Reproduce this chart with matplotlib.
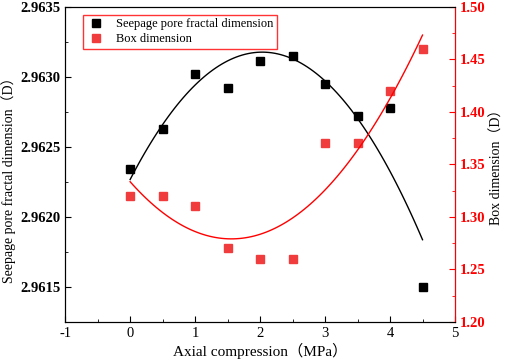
import matplotlib
matplotlib.use('Agg')
import numpy as np
import matplotlib.pyplot as plt
from matplotlib.ticker import MultipleLocator, FormatStrFormatter

plt.rcParams['font.family'] = ['Liberation Serif', 'Noto Sans CJK SC']
plt.rcParams['axes.unicode_minus'] = False

pressure = [0, 0.5, 1, 1.5, 2, 2.5, 3, 3.5, 4, 4.5]
seepage_d = [2.96234, 2.96263, 2.96302, 2.96292, 2.96311, 2.96315, 2.96295, 2.96272, 2.96278, 2.96150]
box_d = [1.32, 1.32, 1.31, 1.27, 1.26, 1.26, 1.37, 1.37, 1.42, 1.46]

fig = plt.figure(figsize=(5.05, 3.6), dpi=100)
ax = fig.add_axes([0.129, 0.106, 0.772, 0.875])
ax2 = ax.twinx()

xs = np.linspace(0, 4.5, 100)
p1 = np.polyfit(pressure, seepage_d, 2)
p2 = np.polyfit(pressure, box_d, 2)

h1, = ax.plot(pressure, seepage_d, 's', color='black', markersize=6, linestyle='none',
              label='Seepage pore fractal dimension')
ax.plot(xs, np.polyval(p1, xs), color='black', lw=1)
h2, = ax2.plot(pressure, box_d, 's', color='#f03c3c', markersize=6, linestyle='none',
               label='Box dimension')
ax2.plot(xs, np.polyval(p2, xs), color='red', lw=1)

ax.set_xlim(-1, 5)
ax.set_ylim(2.96125, 2.9635)
ax2.set_ylim(1.20, 1.50)

ax.xaxis.set_major_locator(MultipleLocator(1))
ax.xaxis.set_minor_locator(MultipleLocator(0.5))
ax.yaxis.set_major_locator(MultipleLocator(0.0005))
ax.yaxis.set_minor_locator(MultipleLocator(0.00025))
ax.yaxis.set_major_formatter(FormatStrFormatter('%.4f'))
ax2.yaxis.set_major_locator(MultipleLocator(0.05))
ax2.yaxis.set_minor_locator(MultipleLocator(0.025))
ax2.yaxis.set_major_formatter(FormatStrFormatter('%.2f'))

ax.tick_params(axis='both', which='both', direction='in', top=False, labelsize=10.5)
ax.tick_params(which='major', length=4)
ax.tick_params(which='minor', length=2)
for lab in ax.get_yticklabels():
    lab.set_fontweight('bold')
ax2.tick_params(axis='y', which='both', direction='in', colors='red', labelsize=10.5)
ax2.tick_params(which='major', length=4)
ax2.tick_params(which='minor', length=2)
for lab in ax2.get_yticklabels():
    lab.set_fontweight('bold')
ax2.spines['right'].set_color('red')

ax.set_xlabel('Axial compression（MPa）', fontsize=11, labelpad=2)
ax.set_ylabel('Seepage pore fractal dimension（D）', fontsize=10)
ax2.set_ylabel('Box dimension（D）', fontsize=10)
ax.yaxis.set_label_coords(-0.126, 0.46)
ax2.yaxis.set_label_coords(1.09, 0.5)

leg = ax.legend(handles=[h1, h2], loc='upper left', bbox_to_anchor=(0.03, 0.995),
                fontsize=9, frameon=True, fancybox=False, borderpad=0.3,
                handletextpad=0.8, labelspacing=0.2, handlelength=1.5)
leg.get_frame().set_edgecolor('red')
leg.get_frame().set_linewidth(1)

fig.savefig('out.png', dpi=100)
